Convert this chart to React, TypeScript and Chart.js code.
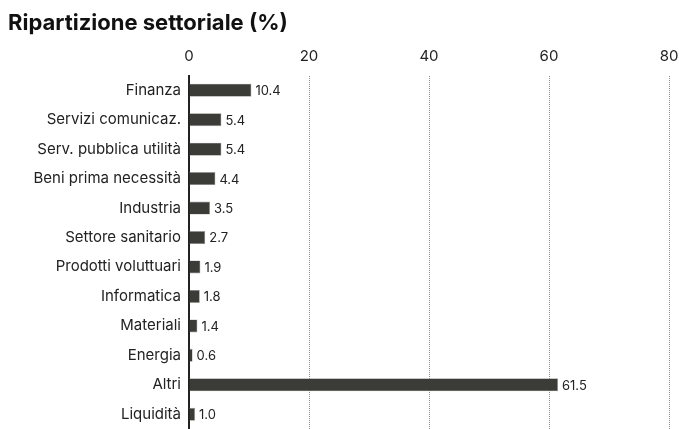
import React, { useEffect, useRef } from "react";
import { Chart, registerables } from "chart.js";

Chart.register(...registerables);

const categories = [
  "Finanza",
  "Servizi comunicaz.",
  "Serv. pubblica utilità",
  "Beni prima necessità",
  "Industria",
  "Settore sanitario",
  "Prodotti voluttuari",
  "Informatica",
  "Materiali",
  "Energia",
  "Altri",
  "Liquidità",
];
const values = [10.4, 5.4, 5.4, 4.4, 3.5, 2.7, 1.9, 1.8, 1.4, 0.6, 61.5, 1.0];
const xTicks = [0, 20, 40, 60, 80];
const titleText = "Ripartizione settoriale (%)";

const FONT = "Inter, 'Liberation Sans', Arial, sans-serif";

const valueLabels = {
  id: "valueLabels",
  afterDatasetsDraw(chart: any) {
    const ctx = chart.ctx;
    const meta = chart.getDatasetMeta(0);
    ctx.save();
    ctx.font = `13px ${FONT}`;
    ctx.fillStyle = "#222";
    ctx.textAlign = "left";
    ctx.textBaseline = "middle";
    meta.data.forEach((bar: any, i: number) => {
      ctx.fillText(values[i].toFixed(1), bar.x + 4, bar.y + 1);
    });
    ctx.restore();
  },
};

const titlePlugin = {
  id: "titleText",
  afterDraw(chart: any) {
    const ctx = chart.ctx;
    ctx.save();
    ctx.font = `bold 22px ${FONT}`;
    ctx.fillStyle = "#111";
    ctx.textAlign = "left";
    ctx.textBaseline = "alphabetic";
    ctx.fillText(titleText, 8, 30);
    ctx.restore();
  },
};

export default function App() {
  const ref = useRef<HTMLCanvasElement>(null);
  useEffect(() => {
    if (!ref.current) return;
    const chart = new Chart(ref.current, {
      type: "bar",
      data: {
        labels: categories,
        datasets: [
          {
            data: values,
            backgroundColor: "#3b3b38",
            borderColor: "#9a9a96",
            borderWidth: 0.6,
            barPercentage: 0.88,
            categoryPercentage: 0.5,
          },
        ],
      },
      options: {
        indexAxis: "y",
        responsive: false,
        animation: false,
        layout: { padding: { top: 40, right: 10, left: 0, bottom: 0 } },
        plugins: {
          legend: { display: false },
          tooltip: { enabled: false },
          title: { display: false },
        },
        scales: {
          x: {
            position: "top",
            min: 0,
            max: 80,
            afterBuildTicks: (scale: any) => {
              scale.ticks = xTicks.map((v) => ({ value: v }));
            },
            afterFit: (scale: any) => {
              scale.height = 35.5;
              scale.paddingLeft = 0;
              scale.paddingRight = 0;
            },
            border: { display: false, dash: [1, 1] },
            grid: {
              drawTicks: false,
              color: (c: any) => (c.tick && c.tick.value === 0 ? "rgba(0,0,0,0)" : "#8a8a8a"),
              lineWidth: 1,
            },
            ticks: {
              padding: 10,
              color: "#222",
              font: { family: FONT, size: 15 },
            },
          },
          y: {
            afterFit: (scale: any) => {
              scale.width = 189;
              scale.paddingTop = 0;
              scale.paddingBottom = 0;
            },
            border: { display: true, color: "#222", width: 2 },
            grid: { display: false, drawTicks: false },
            ticks: {
              padding: 8,
              color: "#222",
              font: { family: FONT, size: 15 },
            },
          },
        },
      },
      plugins: [valueLabels, titlePlugin],
    });
    return () => chart.destroy();
  }, []);
  return (
    <div style={{ position: "absolute", left: 0, top: 0 }}>
      <canvas ref={ref} width={679} height={429} style={{ display: "block" }} />
    </div>
  );
}
